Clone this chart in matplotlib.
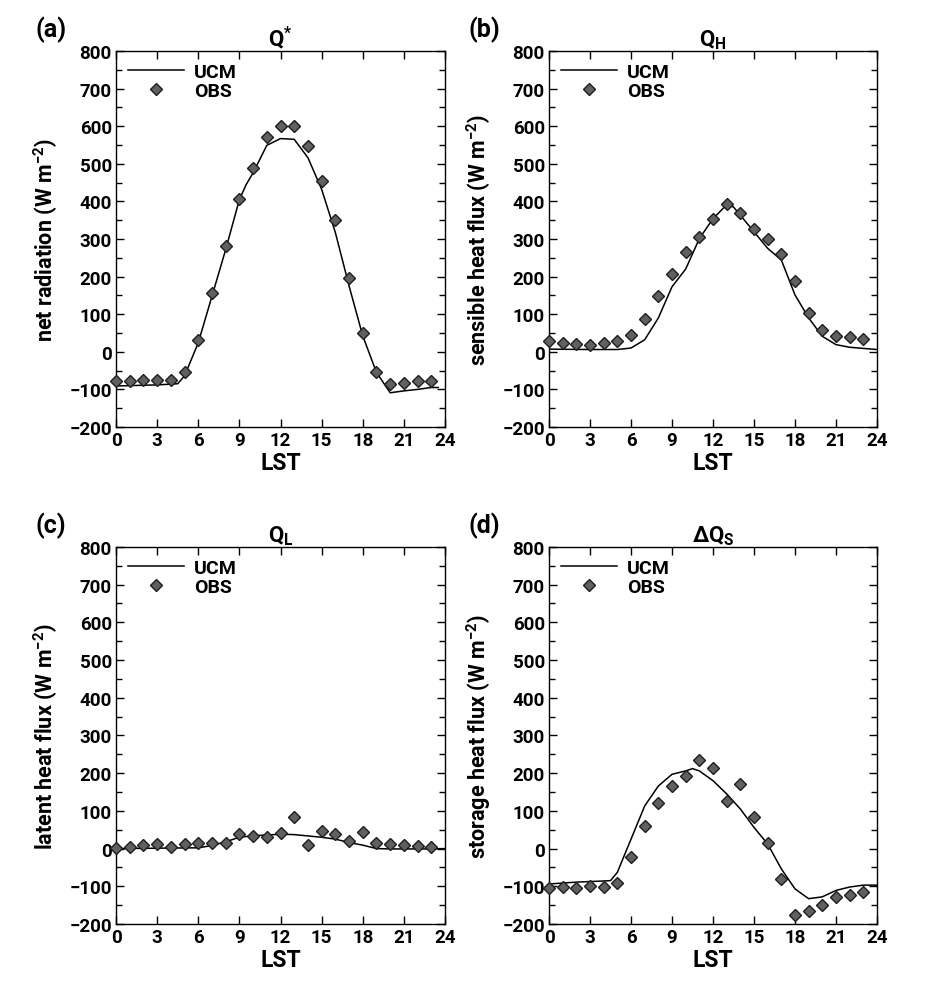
import numpy as np
import matplotlib
matplotlib.use('Agg')
import matplotlib.pyplot as plt
from matplotlib.ticker import MultipleLocator

plt.rcParams['font.family'] = ['Roboto', 'DejaVu Sans']
plt.rcParams['font.weight'] = 'bold'
plt.rcParams['axes.labelweight'] = 'bold'
plt.rcParams['axes.titleweight'] = 'bold'
plt.rcParams['mathtext.fontset'] = 'custom'
plt.rcParams['mathtext.rm'] = 'Roboto:bold'
plt.rcParams['mathtext.bf'] = 'Roboto:bold'
plt.rcParams['mathtext.sf'] = 'Roboto:bold'
plt.rcParams['axes.unicode_minus'] = True

# observed hours
hours = np.arange(24)

# model curve hours (denser sampling)
ucm_hours = [0, 3, 4.5, 5, 6, 7, 8, 9, 9.5, 10, 11, 12, 13, 14, 15, 16, 17, 18, 19, 20, 21, 22, 23, 23.5]

# (a) net radiation
obs_qstar = [-78, -78, -76, -75, -75, -55, 30, 155, 281, 407, 490, 570,
             600, 600, 547, 454, 351, 195, 49, -53, -87, -82, -79, -78]
ucm_qstar = [-91, -88, -85, -64, 24, 148, 272, 405, 445, 476, 549, 567,
             565, 516, 432, 317, 175, 42, -55, -109, -104, -100, -95, -95]

# (b) sensible heat flux
obs_qh = [28, 24, 22, 17, 23, 28, 45, 87, 147, 207, 266, 306,
          352, 394, 368, 326, 301, 261, 187, 102, 57, 41, 39, 34]
ucm_qh_hours = [0, 3, 5, 6, 7, 8, 9, 10, 11, 12, 13, 13.5, 14, 15, 16, 17, 18, 19, 20, 21, 22, 23, 24]
ucm_qh = [7, 6, 6, 10, 32, 90, 173, 220, 301, 354, 391, 385, 363, 319, 275, 244, 151, 90, 41, 19, 12, 9, 6]

# (c) latent heat flux
obs_ql = [2, 5, 9, 11, 5, 12, 15, 15, 16, 38, 34, 31,
          40, 83, 10, 47, 39, 21, 43, 16, 12, 9, 8, 5]
ucm_ql_hours = [0, 6, 7, 8, 9, 10, 12, 13, 15, 16, 17, 18, 19, 20, 23, 24]
ucm_ql = [0, 2, 8, 18, 30, 34, 38, 37, 30, 25, 16, 9, 0, -1, -1, 0]

# (d) storage heat flux
obs_qs = [-105, -102, -104, -100, -102, -92, -23, 59, 121, 167, 193, 236,
          213, 127, 171, 85, 16, -81, -177, -165, -150, -128, -123, -114]
ucm_qs_hours = [0, 2, 4, 4.5, 5, 6, 7, 8, 9, 10, 10.5, 11, 12, 13, 14, 15, 16, 17, 18, 19, 20, 21, 22, 23, 24]
ucm_qs = [-94, -89, -86, -85, -63, 25, 113, 166, 197, 206, 212, 206, 180, 145, 105, 56, 12,
          -54, -107, -133, -128, -111, -102, -97, -97]

panels = [
    ('(a)', r'$\mathbf{Q^{*}}$', 'net radiation (W m$^{\mathbf{-2}}$)', ucm_hours, ucm_qstar, obs_qstar),
    ('(b)', r'$\mathbf{Q_{H}}$', 'sensible heat flux (W m$^{\mathbf{-2}}$)', ucm_qh_hours, ucm_qh, obs_qh),
    ('(c)', r'$\mathbf{Q_{L}}$', 'latent heat flux (W m$^{\mathbf{-2}}$)', ucm_ql_hours, ucm_ql, obs_ql),
    ('(d)', r'$\mathbf{\Delta Q_{S}}$', 'storage heat flux (W m$^{\mathbf{-2}}$)', ucm_qs_hours, ucm_qs, obs_qs),
]

fig = plt.figure(figsize=(9.26, 10.03), dpi=100)
positions = [
    [0.1253, 0.5733, 0.3553, 0.3749],
    [0.5929, 0.5733, 0.3542, 0.3749],
    [0.1253, 0.0778, 0.3553, 0.3759],
    [0.5929, 0.0778, 0.3542, 0.3759],
]

for pos, (tag, title, ylab, xh, yu, yo) in zip(positions, panels):
    ax = fig.add_axes(pos)
    ax.plot(xh, yu, color='black', lw=1.1, label='UCM')
    ax.plot(hours, yo, linestyle='none', marker='D', markersize=6.2,
            markerfacecolor='#606060', markeredgecolor='#1e1e1e', markeredgewidth=1.0,
            label='OBS', clip_on=False, zorder=3)
    ax.set_xlim(0, 24)
    ax.set_ylim(-200, 800)
    ax.xaxis.set_major_locator(MultipleLocator(3))
    ax.yaxis.set_major_locator(MultipleLocator(100))
    ax.yaxis.set_minor_locator(MultipleLocator(50))
    ax.tick_params(which='both', direction='in', top=True, right=True, labelsize=13.5, width=1.0, pad=3)
    ax.tick_params(which='major', length=6)
    ax.tick_params(which='minor', length=4)
    for sp in ax.spines.values():
        sp.set_linewidth(1.0)
    ax.set_xlabel('LST', fontsize=16.5, labelpad=1)
    ax.set_ylabel(ylab, fontsize=15.5, labelpad=7)
    ax.set_title(title, fontsize=16, pad=1)
    ax.text(-0.245, 1.058, tag, transform=ax.transAxes, fontsize=18, va='center', ha='left')
    ax.legend(loc='upper left', frameon=False, fontsize=14, handlelength=2.9,
              handletextpad=0.5, borderaxespad=0.2, labelspacing=0.05,
              bbox_to_anchor=(0.0, 1.0))

fig.savefig('out.png', dpi=100)
